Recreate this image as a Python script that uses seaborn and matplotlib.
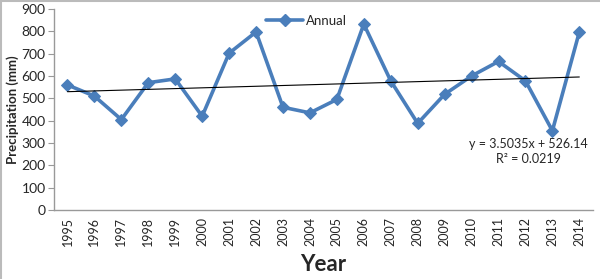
import numpy as np
import pandas as pd
import seaborn as sns
import matplotlib.pyplot as plt
from matplotlib.lines import Line2D

# Annual precipitation values
years = [1995, 1996, 1997, 1998, 1999, 2000, 2001, 2002, 2003, 2004,
         2005, 2006, 2007, 2008, 2009, 2010, 2011, 2012, 2013, 2014]
annual = [560, 510, 405, 570, 587, 420, 702, 797, 460, 435,
          495, 832, 578, 388, 518, 600, 665, 578, 355, 797]
y_ticks = [0, 100, 200, 300, 400, 500, 600, 700, 800, 900]
trend_text = "y = 3.5035x + 526.14\nR\u00b2 = 0.0219"

df = pd.DataFrame({"pos": np.arange(1, len(years) + 1), "Year": years, "Annual": annual})

sns.set_style("white")
plt.rcParams["font.family"] = ["Lato", "DejaVu Sans"]

fig = plt.figure(figsize=(6, 2.79), dpi=100)
ax = fig.add_axes([0.09, 0.247, 0.898, 0.721])

blue = "#4A7EBB"
sns.lineplot(data=df, x="pos", y="Annual", ax=ax, color=blue, linewidth=2.6,
             marker="D", markersize=6.5, markeredgecolor=blue, label="Annual")

# linear trend (Excel style)
coef = np.polyfit(df["pos"], df["Annual"], 1)
ax.plot(df["pos"], np.polyval(coef, df["pos"]), color="black", linewidth=0.8)

ax.set_xlim(0.5, len(years) + 0.5)
ax.set_ylim(0, 900)
ax.set_yticks(y_ticks)
ax.set_xticks(df["pos"])
ax.set_xticklabels([str(y) for y in years], rotation=90, fontsize=9)
ax.tick_params(axis="y", labelsize=10, length=4, color="#999999", direction="out", left=True, pad=2)
ax.tick_params(axis="x", length=0, pad=5)

for s in ["top", "right"]:
    ax.spines[s].set_visible(False)
for s in ["left", "bottom"]:
    ax.spines[s].set_color("#999999")
    ax.spines[s].set_linewidth(1)

ax.set_xlabel("Year", fontsize=16, fontweight="bold", labelpad=6)
ax.set_ylabel("Precipitation (mm)", fontsize=9.5, fontweight="bold", labelpad=2)

ax.text(18.1, 262, trend_text, ha="center", va="center", fontsize=9, linespacing=1.35)

handle = Line2D([], [], color=blue, linewidth=2.6, marker="D", markersize=6.5)
ax.legend([handle], ["Annual"], loc="upper left", bbox_to_anchor=(0.372, 1.03),
          frameon=False, fontsize=9.5, handlelength=2.8, handletextpad=0.2)

# thin border at left/top of the picture
fig.add_artist(Line2D([0.001, 0.001], [0, 1], transform=fig.transFigure, color="#bbbbbb", linewidth=1.5))
fig.add_artist(Line2D([0, 1], [0.998, 0.998], transform=fig.transFigure, color="#bbbbbb", linewidth=1.5))

fig.savefig("out.png", dpi=100)
